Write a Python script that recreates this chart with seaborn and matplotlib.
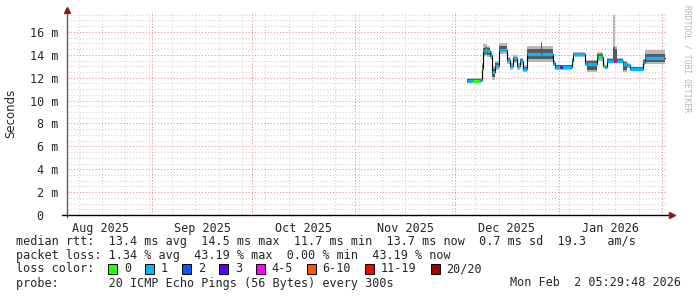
import matplotlib
matplotlib.use("Agg")
import matplotlib.pyplot as plt
import seaborn as sns
import pandas as pd
from matplotlib.patches import Rectangle

# ---------------- data (x = days since 2025-09-01 00:00, y = ms) ----------------
seg_start = [94.6, 95.9, 98.3, 98.9, 99.4, 99.9, 100.6, 101.4, 101.9, 102.9,
             104.2, 106.4, 107.4, 108.4, 109.4, 110.4, 111.4, 112.4, 116.8, 117.1,
             120.2, 120.9, 122.4, 122.9, 125.9, 126.4, 129.9, 130.4, 133.6, 133.9,
             134.9, 135.2, 135.8, 136.4, 138.4, 138.6, 139.0, 139.6, 141.4, 142.4,
             143.4, 147.2, 147.9, 153.5]
seg_end = 153.9
median_ms = [11.75, 11.75, 11.8, 12.8, 14.3, 14.4, 14.3, 14.0, 12.5, 13.05,
             14.45, 13.55, 13.0, 13.7, 13.0, 13.45, 12.8, 14.1, 14.1, 14.1,
             13.3, 12.95, 12.95, 12.95, 13.5, 14.05, 13.3, 13.2, 13.85, 13.85,
             13.85, 13.05, 12.95, 13.5, 13.5, 13.5, 13.5, 13.5, 13.2, 13.1,
             12.8, 13.4, 13.75, 13.75]
loss_cat = ['1', '0', '1', '0', '1', '0', '1', '1', '1', '1',
            '1', '1', '1', '1', '1', '1', '1', '1', '1', '1',
            '1', '1', '3', '1', '1', '1', '1', '1', '1', '0',
            '1', '0', '1', '1', '1', '11-19', '4-5', '1', '1', '1',
            '1', '1', '1', '6-10']
smoke_lo = [11.55, 11.6, 11.6, 12.2, 13.8, 13.9, 13.8, 13.6, 11.8, 12.7,
            14.1, 13.2, 12.7, 13.3, 12.7, 13.1, 12.5, 13.35, 13.35, 13.35,
            13.0, 12.7, 12.7, 12.7, 13.3, 13.85, 13.0, 12.5, 13.5, 13.5,
            13.5, 12.85, 12.75, 13.25, 13.3, 13.3, 13.3, 13.25, 12.5, 12.85,
            12.6, 13.1, 13.2, 13.2]
smoke_hi = [12.0, 11.95, 11.95, 13.3, 14.9, 14.95, 14.8, 14.3, 13.0, 13.5,
            15.0, 13.8, 13.3, 13.95, 13.3, 13.7, 13.1, 14.8, 15.1, 14.8,
            13.5, 13.15, 13.15, 13.15, 13.7, 14.25, 13.5, 13.55, 14.25, 14.25,
            14.2, 13.25, 13.15, 13.75, 17.5, 17.5, 14.8, 13.75, 13.5, 13.3,
            12.95, 13.6, 14.45, 14.4]
core_lo = [11.65, 11.65, 11.7, 12.5, 14.0, 14.1, 14.0, 13.8, 12.1, 12.9,
           14.25, 13.4, 12.85, 13.5, 12.85, 13.3, 12.65, 13.6, 13.6, 13.6,
           13.15, 12.8, 12.8, 12.8, 13.4, 13.95, 13.15, 12.7, 13.65, 13.65,
           13.65, 12.95, 12.85, 13.35, 13.4, 13.4, 13.4, 13.35, 12.7, 12.95,
           12.7, 13.25, 13.4, 13.4]
core_hi = [11.85, 11.85, 11.9, 13.1, 14.6, 14.7, 14.6, 14.2, 12.8, 13.3,
           14.75, 13.7, 13.15, 13.85, 13.15, 13.6, 12.95, 14.55, 15.05, 14.55,
           13.45, 13.1, 13.1, 13.1, 13.6, 14.15, 13.45, 13.45, 14.1, 14.1,
           14.05, 13.15, 13.05, 13.65, 14.7, 14.7, 14.5, 13.65, 13.4, 13.2,
           12.9, 13.55, 14.1, 14.1]

loss_labels = ['0', '1', '2', '3', '4-5', '6-10', '11-19', '20/20']
loss_colors = ['#26ff00', '#00b8ff', '#0059ff', '#5e00ff', '#ff00ff',
               '#ff5500', '#ff0000', '#a00000']

month_starts = [0, 30, 61, 91, 122, 153]
month_label_pos = [-15.5, 15, 45.5, 76, 106.5, 137.5]
month_labels = ['Aug 2025', 'Sep 2025', 'Oct 2025', 'Nov 2025', 'Dec 2025', 'Jan 2026']
y_major = [0, 2, 4, 6, 8, 10, 12, 14, 16]
y_labels = ['0  ', '2 m', '4 m', '6 m', '8 m', '10 m', '12 m', '14 m', '16 m']

line_rtt = "median rtt:  13.4 ms avg  14.5 ms max  11.7 ms min  13.7 ms now  0.7 ms sd  19.3   am/s"
line_loss = "packet loss: 1.34 % avg  43.19 % max  0.00 % min  43.19 % now"
line_lc = "loss color:"
line_probe = "probe:       20 ICMP Echo Pings (56 Bytes) every 300s"
stamp = "Mon Feb  2 05:29:48 2026"
ylabel = "Seconds"
watermark = "RRDTOOL / TOBI OETIKER"

# ---------------- figure ----------------
sns.set_style("white")
W, H = 697, 297
fig = plt.figure(figsize=(W / 100, H / 100), dpi=100)
fig.patch.set_facecolor("white")
ax_l, ax_r, ax_t, ax_b = 67, 667, 12, 215
ax = fig.add_axes([ax_l / W, 1 - ax_b / H, (ax_r - ax_l) / W, (ax_b - ax_t) / H])
ax.set_xlim(-25.5, 154.5)
ax.set_ylim(0, 17.74)
for s in ax.spines.values():
    s.set_visible(False)

# grid
mono = "DejaVu Sans Mono"
y_minor = [v / 2 for v in range(1, 36) if v % 4 != 0]
week_lines = list(range(-22, 154, 7))
dot = (0, (1, 2))
ax.hlines(y_minor, -25.5, 154.5, colors="#d0d0d0", lw=0.75, linestyles=dot, zorder=0)
ax.vlines(week_lines, 0, 17.74, colors="#d0d0d0", lw=0.75, linestyles=dot, zorder=0)
ax.hlines(y_major[1:], -25.5, 154.5, colors="#f08a8a", lw=0.75, linestyles=dot, zorder=0.5)
ax.vlines(month_starts, 0, 17.74, colors="#f08a8a", lw=0.75, linestyles=dot, zorder=0.5)

# smoke
xs = seg_start + [seg_end]
ax.fill_between(xs, smoke_lo + [smoke_lo[-1]], smoke_hi + [smoke_hi[-1]],
                step="post", color="#b8b8b8", lw=0, zorder=2)
ax.fill_between(xs, core_lo + [core_lo[-1]], core_hi + [core_hi[-1]],
                step="post", color="#5a5a5a", lw=0, zorder=3)

# median (black step) + loss-coloured segments
df = pd.DataFrame({"t": xs, "ms": median_ms + [median_ms[-1]]})
sns.lineplot(data=df, x="t", y="ms", drawstyle="steps-post", color="black",
             lw=0.8, ax=ax, zorder=4, estimator=None)
ends = seg_start[1:] + [seg_end]
for lab, col in zip(loss_labels, loss_colors):
    idx = [i for i, c in enumerate(loss_cat) if c == lab]
    if idx:
        ax.hlines([median_ms[i] for i in idx], [seg_start[i] for i in idx],
                  [ends[i] for i in idx], colors=col, lw=2.3, zorder=5)

# ticks
ax.set_xlabel("")
ax.set_ylabel("")
ax.set_yticks(y_major)
ax.set_yticklabels(y_labels, fontfamily=mono, fontsize=8.5)
ax.tick_params(axis="y", length=3, width=0.8, color="#808080", pad=3)
ax.set_xticks(month_label_pos)
ax.set_xticklabels(month_labels, fontfamily=mono, fontsize=8.5)
ax.tick_params(axis="x", length=0, pad=5)
ax.set_xticks(month_starts, minor=True)
ax.tick_params(axis="x", which="minor", length=3, direction="inout", color="#404040")

# axes lines with arrows
ax.plot([0, 0], [-0.01, 1.0], transform=ax.transAxes, color="#606060", lw=1, clip_on=False, zorder=6)
ax.plot([-0.009, 1.005], [0, 0], transform=ax.transAxes, color="black", lw=1, clip_on=False, zorder=6)
ax.plot([0], [1.012], transform=ax.transAxes, marker="^", ms=5, color="#8b1a1a", clip_on=False, zorder=7)
ax.plot([1.009], [0], transform=ax.transAxes, marker=">", ms=5, color="#8b1a1a", clip_on=False, zorder=7)

# texts
def fx(px):
    return px / W

def fy(py):
    return 1 - py / H

fig.text(fx(11), fy(113), ylabel, rotation=90, ha="center", va="center",
         fontsize=8.5, family="DejaVu Sans")
fig.text(fx(687), fy(5), watermark, rotation=270, ha="center", va="top",
         fontsize=5.8, family=mono, color="#b4b4b4")

tx = 16
fig.text(fx(tx), fy(241), line_rtt, ha="left", va="center", fontsize=8.5, family=mono)
fig.text(fx(tx), fy(255), line_loss, ha="left", va="center", fontsize=8.5, family=mono)
fig.text(fx(tx), fy(269), line_lc, ha="left", va="center", fontsize=8.5, family=mono)
fig.text(fx(tx), fy(283), line_probe, ha="left", va="center", fontsize=8.5, family=mono)
fig.text(fx(681), fy(283), stamp, ha="right", va="center", fontsize=8.5, family=mono)

cw = 7.1
col = 13.0
for lab, colr in zip(loss_labels, loss_colors):
    bx = tx + col * cw
    fig.patches.append(Rectangle((fx(bx), fy(274)), 9 / W, 10 / H, transform=fig.transFigure,
                                 facecolor=colr, edgecolor="black", lw=0.7, figure=fig))
    lcol = col + 2.2
    fig.text(fx(tx + lcol * cw), fy(269), lab, ha="left", va="center", fontsize=8.5, family=mono)
    col = lcol + len(lab) + 2

fig.savefig("out.png", dpi=100, facecolor="white")
